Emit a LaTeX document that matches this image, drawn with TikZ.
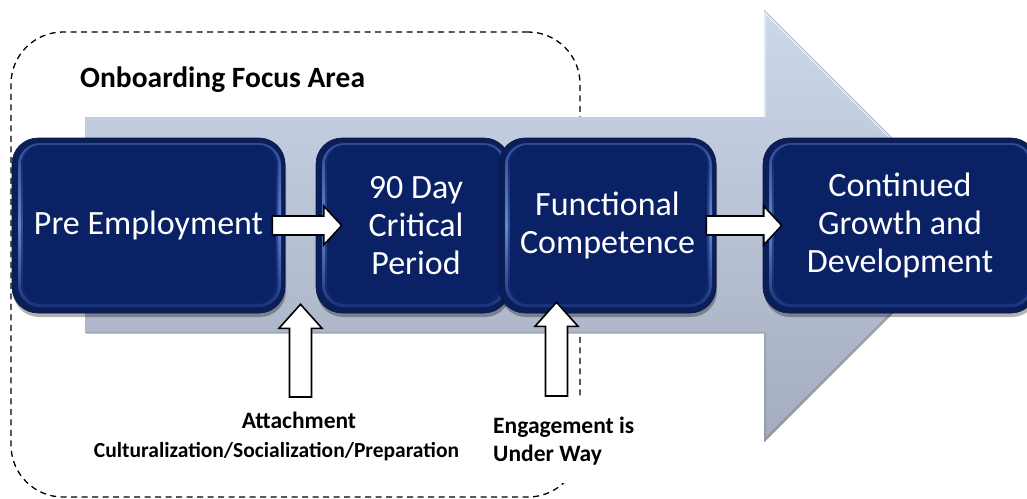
\documentclass[tikz,border=0pt]{standalone}
\usepackage{fontspec}
\setmainfont{Carlito}
\usetikzlibrary{calc}
\definecolor{navy}{HTML}{0A2166}
\definecolor{navyedge}{HTML}{0A1E58}
\definecolor{bandmid}{HTML}{6585D2}
\definecolor{bandtop}{HTML}{2A4690}
\definecolor{bandbot}{HTML}{142E74}
\definecolor{bgtop}{HTML}{CDD7EB}
\definecolor{bgbot}{HTML}{A4ADBF}
\tikzset{
  stagebox/.style={rectangle, rounded corners=26pt, fill=navyedge, draw=navyedge!80!black,
    line width=0.6pt, inner sep=0pt, text=white, align=center,
    font=\fontsize{34}{38}\selectfont,
    preaction={fill=black, fill opacity=.3, draw=none, transform canvas={shift={(1pt,-4pt)}}},
    path picture={
      \fill[rounded corners=22pt, top color=bandtop, bottom color=bandbot, middle color=bandmid]
        ([shift={(6pt,-5pt)}]path picture bounding box.north west) rectangle
        ([shift={(-4pt,6pt)}]path picture bounding box.south east);
      \fill[rounded corners=20pt, top color=navy, bottom color=navy, middle color=bandmid!45!navy]
        ([shift={(9pt,-7pt)}]path picture bounding box.north west) rectangle
        ([shift={(-7pt,9pt)}]path picture bounding box.south east);
      \fill[rounded corners=18pt, navy]
        ([shift={(11pt,-9pt)}]path picture bounding box.north west) rectangle
        ([shift={(-9pt,12pt)}]path picture bounding box.south east);
    }},
  blockarrow/.style={fill=white, draw=black, line width=1.6pt, miter limit=10},
  focusbox/.style={draw=black, dash pattern=on 6pt off 4.5pt, line width=1.3pt,
    rounded corners=52pt, inner sep=0pt},
  lbl/.style={font=\bfseries\fontsize{23.5}{27.5}\selectfont, inner sep=0pt},
}
\newcommand\harrowfromto[2]{%
  \draw[blockarrow] let \p1=(#1), \p2=(#2) in
    (\x1,\y2+9.5pt) -- (\x2-18pt,\y2+9.5pt) -- (\x2-18pt,\y2+19.5pt) -- (\x2,\y2)
    -- (\x2-18pt,\y2-19.5pt) -- (\x2-18pt,\y2-9.5pt) -- (\x1,\y2-9.5pt) -- cycle;}
\newcommand\varrowfromto[2]{%
  \draw[blockarrow] let \p1=(#1), \p2=(#2) in
    (\x2-11pt,\y1) -- (\x2-11pt,\y2-24pt) -- (\x2-21.5pt,\y2-24pt) -- (\x2,\y2)
    -- (\x2+21.5pt,\y2-24pt) -- (\x2+11pt,\y2-24pt) -- (\x2+11pt,\y1) -- cycle;}
\begin{document}
\begin{tikzpicture}[x=1pt,y=-1pt]
\useasboundingbox (0,0) rectangle (1027,498);
% dashed focus area
\node[focusbox, minimum width=569pt, minimum height=465pt] (focus) at (295.5,264.5) {};
% big background arrow
\fill[top color=bgtop, bottom color=bgbot]
  (85,117) -- (764,117) -- (764,10) -- (980,226) -- (764,442) -- (764,333) -- (85,333) -- cycle;
\draw[white, opacity=.45, line width=2pt] (765,117) -- (765,13) -- (977,225);
\draw[black, opacity=.10, line width=2pt] (977,227) -- (765,439) -- (765,333);
\draw[black, opacity=.10, line width=1.5pt] (86,333) -- (764,333);
% stage boxes
\node[stagebox, minimum width=273pt, minimum height=175pt] (b1) at (148.5,225.5) {Pre Employment};
\node[stagebox, minimum width=194pt, minimum height=175pt] (b2) at (413,225.5) {\hspace*{6pt}90 Day\\\hspace*{6pt}Critical\\\hspace*{6pt}Period};
\node[stagebox, minimum width=217pt, minimum height=175pt] (b3) at (607.5,225.5) {Functional\\Competence};
\node[stagebox, minimum width=274pt, minimum height=175pt] (b4) at (900,225.5) {Continued\\Growth and\\Development};
% horizontal block arrows
\coordinate (a1s) at ($(b1.east)+(-13,0)$);
\coordinate (a1e) at ($(b2.west)+(26,0)$);
\harrowfromto{a1s}{a1e}
\coordinate (a2s) at ($(b3.east)+(-10,0)$);
\coordinate (a2e) at ($(b4.west)+(19,0)$);
\harrowfromto{a2s}{a2e}
% vertical block arrows
\coordinate (atttip) at ($($(b1.south east)!.5!(b2.south west)$)+(0,-9)$);
\coordinate (attbot) at (300.5,397);
\varrowfromto{attbot}{atttip}
\coordinate (engtip) at ($(b3.south)+(-51,-11)$);
\coordinate (engbot) at (556.5,396);
\varrowfromto{engbot}{engtip}
% texts
\node[anchor=base west, inner sep=0pt, font=\bfseries\fontsize{29.5}{35}\selectfont] (title) at (80,87) {Onboarding Focus Area};
\node[lbl, anchor=base] (att) at (299,428) {Attachment};
\node[anchor=base, inner sep=0pt, font=\bfseries\fontsize{21.5}{25}\selectfont] (cul) at (276.5,457) {Culturalization/Socialization/Preparation};
\node[lbl, fill=white, inner xsep=5pt, inner ysep=18pt, anchor=north west, align=left] (eng) at (488,399) {Engagement is\\Under Way};
\end{tikzpicture}
\end{document}
